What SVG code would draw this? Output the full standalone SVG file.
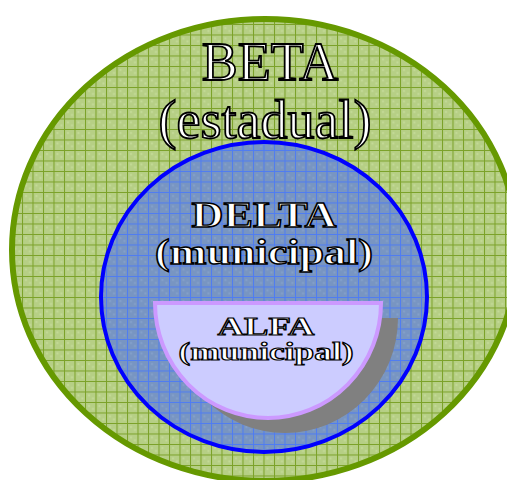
<svg xmlns="http://www.w3.org/2000/svg" width="507" height="480" viewBox="0 0 507 480">
<style>
.lbl{font-family:"Liberation Serif","Times New Roman",serif;fill:#ffffff;stroke:#000000;text-anchor:middle}
.big{font-size:54px;stroke-width:1.8}
.mid{font-size:36px;font-weight:bold;stroke-width:1.4}
.sml{font-size:25px;font-weight:bold;stroke-width:1.1}
</style>
<defs>
<pattern id="gGrid" patternUnits="userSpaceOnUse" x="1" y="3" width="10.5" height="10.5">
<rect width="10.5" height="10.5" fill="#B6CF85"/>
<rect x="3" y="3" width="2" height="2" fill="#C4DA98"/>
<rect x="7" y="6" width="2" height="2" fill="#C4DA98"/>
<path d="M0.5,0V10.5M0,0.5H10.5" stroke="#7BA128" stroke-width="1" fill="none"/>
</pattern>
<pattern id="bGrid" patternUnits="userSpaceOnUse" x="1" y="3" width="10.5" height="10.5">
<rect width="10.5" height="10.5" fill="#7895C2"/>
<rect x="3" y="3" width="2" height="2" fill="#84A0CA"/>
<rect x="7" y="6" width="2" height="2" fill="#84A0CA"/>
<path d="M0.5,0V10.5M0,0.5H10.5" stroke="#4F7CF2" stroke-width="1" fill="none"/>
</pattern>
</defs>
<g id="beta">
<ellipse cx="265" cy="250" rx="253" ry="231" fill="url(#gGrid)" stroke="#669900" stroke-width="6"/>
<text class="lbl big" x="270" y="80">BETA</text>
<text class="lbl big" x="265" y="138">(estadual)</text>
</g>
<g id="delta">
<ellipse cx="264" cy="297" rx="163" ry="155" fill="url(#bGrid)" stroke="#0000FF" stroke-width="4"/>
<text class="lbl mid" x="264" y="227" textLength="145" lengthAdjust="spacingAndGlyphs">DELTA</text>
<text class="lbl mid" x="264" y="264" textLength="218" lengthAdjust="spacingAndGlyphs">(municipal)</text>
</g>
<g id="alfa">
<path d="M172,318 L398,318 A113,115 0 0 1 172,318 Z" fill="#808080"/>
<path d="M155,303 L381,303 A113,115 0 0 1 155,303 Z" fill="#CCCCFF" stroke="#CC99FF" stroke-width="4"/>
<text class="lbl sml" x="266" y="335" textLength="97" lengthAdjust="spacingAndGlyphs">ALFA</text>
<text class="lbl sml" x="266" y="360" textLength="175" lengthAdjust="spacingAndGlyphs">(municipal)</text>
</g>
<g id="connectors"></g>
</svg>
